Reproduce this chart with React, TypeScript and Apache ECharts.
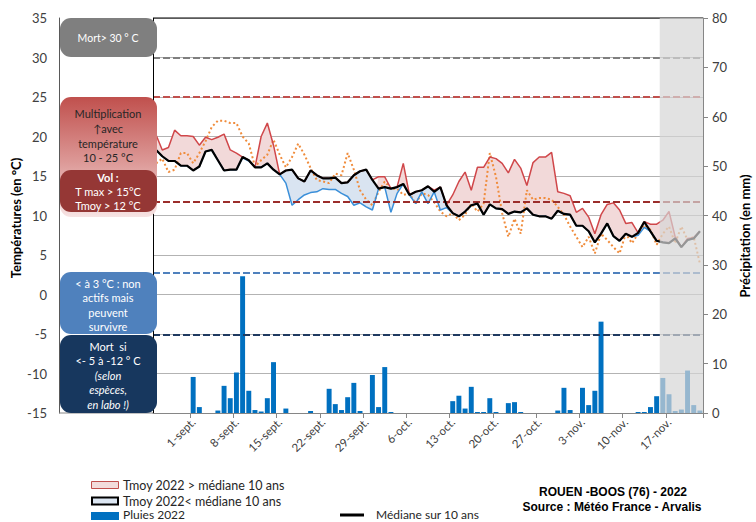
import React, { useEffect, useRef } from "react";
import * as echarts from "echarts";

const FONT = 'Lato, "Open Sans", "DejaVu Sans", sans-serif';

// Daily categories 26-août .. 22-nov.
const monthSpans: [string, number, number][] = [
  ["août", 26, 31],
  ["sept.", 1, 30],
  ["oct.", 1, 31],
  ["nov.", 1, 22],
];
const categories: string[] = [];
monthSpans.forEach(([m, a, b]) => {
  for (let d = a; d <= b; d++) categories.push(`${d}-${m}`);
});

const tickLabels = [
  "1-sept.", "8-sept.", "15-sept.", "22-sept.", "29-sept.", "6-oct.",
  "13-oct.", "20-oct.", "27-oct.", "3-nov.", "10-nov.", "17-nov.",
];
const shadeFrom = "16-nov.";

// Tmoy 2022 (°C)
const tmoy2022 = [
  20.2, 18.3, 18.6, 20.8, 20.1, 20.1, 20.0, 18.9, 19.9, 19.6,
  19.9, 20.3, 18.3, 17.9, 17.3, 16.9, 16.1, 20.0, 21.7, 18.9,
  15.2, 14.1, 11.3, 12.0, 12.6, 12.9, 13.0, 13.4, 13.3, 13.3,
  12.8, 12.4, 11.3, 11.6, 11.1, 10.7, 14.9, 14.9, 10.4, 12.8,
  16.6, 12.6, 11.5, 13.0, 11.5, 13.2, 10.7, 11.0, 12.6, 14.3,
  15.5, 13.2, 16.1, 16.1, 17.4, 17.2, 16.6, 15.4, 17.1, 16.0,
  13.8, 16.7, 17.4, 17.4, 18.0, 13.0, 12.8, 12.5, 10.4, 10.9,
  9.8, 7.7, 10.1, 11.4, 11.6, 10.7, 9.0, 9.1, 7.5, 8.5,
  8.9, 8.9, 9.4, 10.5, 7.3, 6.0, 7.1, 7.2, 8.0,
];

// Médiane sur 10 ans (°C)
const median10 = [
  18.3, 17.5, 16.9, 16.9, 16.3, 16.3, 15.7, 16.2, 18.1, 18.3,
  17.0, 15.7, 15.8, 15.8, 17.4, 17.0, 16.1, 16.1, 16.6, 15.8,
  15.2, 15.7, 15.8, 14.7, 14.3, 15.7, 15.1, 14.7, 14.7, 14.8,
  14.1, 14.2, 15.1, 15.6, 15.8, 14.5, 13.4, 13.6, 13.4, 13.6,
  14.0, 12.6, 13.0, 13.2, 13.7, 13.0, 13.6, 11.3, 10.3, 9.9,
  10.5, 11.3, 11.5, 10.1, 11.4, 10.9, 10.8, 10.2, 10.5, 10.4,
  10.9, 10.1, 9.9, 9.9, 9.6, 10.6, 10.2, 10.1, 8.7, 8.7,
  8.0, 6.6, 7.7, 9.0, 7.4, 6.8, 7.7, 7.3, 7.8, 9.2,
  8.0, 6.8, 6.6, 6.5, 7.1, 6.0, 6.9, 7.1, 8.0,
];

// Orange dotted series (°C)
const orangeDotted = [
  16.6, 17.2, 15.5, 15.8, 17.9, 17.9, 16.6, 17.9, 19.4, 21.2,
  22.0, 22.0, 21.7, 21.7, 20.0, 19.1, 16.2, 17.0, 17.7, 19.6,
  17.7, 16.1, 17.4, 19.1, 17.7, 16.0, 14.5, 14.3, 14.1, 15.3,
  15.1, 17.9, 15.8, 13.2, 12.0, 11.3, 13.0, 14.3, 13.4, 13.4,
  12.6, 12.8, 11.5, 12.8, 12.6, 11.7, 10.5, 9.9, 10.3, 9.4,
  10.1, 11.5, 10.5, 11.5, 17.9, 14.9, 10.3, 7.3, 9.6, 7.7,
  13.2, 12.0, 12.2, 12.2, 12.0, 11.1, 10.1, 8.6, 7.3, 6.0,
  7.3, 5.2, 7.7, 6.9, 6.0, 5.2, 7.7, 6.5, 7.7, 8.8,
  8.2, 6.3, 7.7, 8.6, 6.5, 8.6, 6.9, 7.3, 3.9,
];

// Pluies 2022 (mm)
const rain2022 = [
  0, 0, 0, 0, 0, 0, 7.3, 1.2, 0, 0,
  0.5, 5.5, 3.0, 8.2, 27.7, 4.5, 0.6, 0.3, 3.0, 10.3,
  0, 0.9, 0, 0, 0, 0.4, 0, 0, 4.9, 1.8,
  0.6, 3.2, 6.1, 0.4, 0, 7.7, 1.2, 9.3, 0.2, 0,
  0, 0, 0, 0, 0, 0, 0, 0, 2.4, 3.5,
  0.9, 5.3, 0.2, 0.2, 3.0, 0.2, 0, 2.0, 2.2, 0.2,
  0, 0, 0, 0, 0, 0.5, 5.1, 0.6, 0, 5.1,
  1.6, 4.5, 18.5, 0, 0, 0, 0, 0, 0.2, 0.2,
  1.2, 3.4, 7.1, 3.8, 0.4, 0.7, 8.6, 1.6, 0.5,
];

const thresholds = [30, 25, 11.7, 2.8, -5.1];
const thresholdColors = ["#7f7f7f", "#c0504d", "#9b2d2b", "#4f81bd", "#1f3a60"];

export default function App() {
  const ref = useRef<HTMLDivElement>(null);

  useEffect(() => {
    document.body.style.margin = "0";
    const el = ref.current!;
    const chart = echarts.init(el, undefined, { renderer: "svg" });

    const lo = tmoy2022.map((t, i) => Math.min(t, median10[i]));
    const hi = tmoy2022.map((t, i) => Math.max(t, median10[i]));
    const up = tmoy2022.map((t, i) => +Math.max(t - median10[i], 0).toFixed(2));
    const dn = tmoy2022.map((t, i) => +Math.max(median10[i] - t, 0).toFixed(2));

    const tickFn = (_i: number, v: string) => tickLabels.includes(v);
    const hidden = { opacity: 0, width: 0 };

    const option: any = {
      animation: false,
      grid: { left: 153, right: 53, top: 18, bottom: 109, containLabel: false },
      xAxis: {
        type: "category",
        data: categories,
        boundaryGap: true,
        axisLine: { show: true, onZero: false, lineStyle: { color: "#868686" } },
        axisTick: { show: true, interval: tickFn, length: 5, lineStyle: { color: "#868686" } },
        axisLabel: {
          interval: tickFn,
          rotate: 45,
          fontSize: 11.5,
          color: "#404040",
          margin: 7,
          fontFamily: FONT,
        },
        splitLine: { show: false },
      },
      yAxis: [
        {
          type: "value",
          min: -15,
          max: 35,
          interval: 5,
          position: "left",
          offset: 94,
          axisLine: { show: true, lineStyle: { color: "#595959" } },
          axisTick: { show: false },
          axisLabel: { fontSize: 13, color: "#404040", margin: 12, fontFamily: FONT },
          splitLine: { show: true, lineStyle: { color: "#b3b3b3", width: 1 } },
        },
        {
          type: "value",
          min: 0,
          max: 80,
          interval: 10,
          position: "right",
          axisLine: { show: true, lineStyle: { color: "#868686" } },
          axisTick: { show: true, length: 5, lineStyle: { color: "#868686" } },
          axisLabel: { fontSize: 13, color: "#404040", margin: 9, fontFamily: FONT },
          splitLine: { show: false },
        },
      ],
      series: [
        {
          name: "Pluies 2022",
          type: "bar",
          yAxisIndex: 1,
          data: rain2022,
          barWidth: "80%",
          itemStyle: { color: "#0070c0" },
          z: 1,
        },
        {
          name: "upBase",
          type: "line",
          stack: "up",
          data: lo,
          symbol: "none",
          lineStyle: hidden,
          z: 2,
          markLine: {
            silent: true,
            symbol: ["none", "none"],
            label: { show: false },
            data: thresholds.map((v, i) => ({
              yAxis: v,
              lineStyle: { color: thresholdColors[i], type: [7, 3], width: 2 },
            })),
          },
        },
        {
          name: "upDiff",
          type: "line",
          stack: "up",
          data: up,
          symbol: "none",
          lineStyle: hidden,
          areaStyle: { color: "#f2d9d9", opacity: 1 },
          z: 2,
        },
        {
          name: "dnBase",
          type: "line",
          stack: "dn",
          data: lo,
          symbol: "none",
          lineStyle: hidden,
          z: 2,
        },
        {
          name: "dnDiff",
          type: "line",
          stack: "dn",
          data: dn,
          symbol: "none",
          lineStyle: hidden,
          areaStyle: { color: "#d9e4f1", opacity: 1 },
          z: 2,
        },
        {
          name: "orange",
          type: "line",
          data: orangeDotted,
          symbol: "none",
          lineStyle: { color: "#f08c3c", width: 2, type: [2, 2.5] },
          z: 3,
        },
        {
          name: "lo",
          type: "line",
          data: lo,
          symbol: "none",
          lineStyle: { color: "#3a8fd9", width: 1.5 },
          z: 4,
        },
        {
          name: "hi",
          type: "line",
          data: hi,
          symbol: "none",
          lineStyle: { color: "#d0474a", width: 1.5 },
          z: 4,
        },
        {
          name: "Médiane sur 10 ans",
          type: "line",
          data: median10,
          symbol: "none",
          lineStyle: { color: "#000000", width: 2.2 },
          z: 5,
        },
      ],
    };

    chart.setOption(option);

    const px = (c: string) => chart.convertToPixel({ xAxisIndex: 0 }, c) as number;
    const band = px(categories[1]) - px(categories[0]);
    const xs = px(shadeFrom) - band / 2;
    const xe = px(categories[categories.length - 1]) + band / 2;
    const xl = px(categories[0]) - band / 2;
    const yTop = chart.convertToPixel({ yAxisIndex: 0 }, 35) as number;
    const yBot = chart.convertToPixel({ yAxisIndex: 0 }, -15) as number;

    const txt = (
      x: number,
      y: number,
      text: string,
      opts: { size?: number; color?: string; weight?: string; style?: string; align?: string; family?: string; rot?: number } = {}
    ) => ({
      type: "text",
      x,
      y,
      rotation: opts.rot || 0,
      z: 30,
      style: {
        text,
        fill: opts.color || "#ffffff",
        fontSize: opts.size || 11,
        fontWeight: opts.weight || "normal",
        fontStyle: opts.style || "normal",
        fontFamily: opts.family || FONT,
        textAlign: opts.align || "center",
        align: opts.align || "center",
        textVerticalAlign: "middle",
        verticalAlign: "middle",
      },
    });

    const box = (y: number, h: number, fill: any) => ({
      type: "rect",
      z: 25,
      shape: { x: 60, y, width: 97, height: h, r: 11 },
      style: { fill },
    });

    const redGrad = new echarts.graphic.LinearGradient(0, 0, 0, 1, [
      { offset: 0, color: "#c0504d" },
      { offset: 0.55, color: "#dd9a98" },
      { offset: 1, color: "#f7e4e4" },
    ]);

    const dark = "#262626";

    chart.setOption({
      graphic: [
        // plot frame
        { type: "line", z: 6, shape: { x1: xl, y1: yTop, x2: xe, y2: yTop }, style: { stroke: "#000", lineWidth: 1 } },
        { type: "line", z: 6, shape: { x1: xl + 0.5, y1: yTop, x2: xl + 0.5, y2: yBot }, style: { stroke: "#000", lineWidth: 1 } },
        { type: "line", z: 6, shape: { x1: 59, y1: yBot, x2: xl, y2: yBot }, style: { stroke: "#868686", lineWidth: 1 } },
        // shaded forecast zone
        {
          type: "rect",
          z: 10,
          shape: { x: xs, y: yTop, width: xe - xs, height: yBot - yTop },
          style: { fill: "rgba(214,214,214,0.7)" },
        },
        // left boxes
        box(18, 39, "#7f7f7f"),
        txt(108, 38, "Mort> 30 ° C", { size: 10.5 }),
        box(97, 120, redGrad),
        txt(108, 113, "Multiplication", { color: dark }),
        txt(108, 128, "↑avec", { color: dark }),
        txt(108, 143, "température", { color: dark }),
        txt(108, 157, "10 - 25 °C", { color: dark }),
        box(170, 42, "#953735"),
        txt(108, 177, "Vol :", { weight: "bold" }),
        txt(108, 191, "T max > 15°C"),
        txt(108, 205, "Tmoy > 12 °C"),
        box(272, 62, "#4f81bd"),
        txt(108, 283, "< à 3 °C : non"),
        txt(108, 297, "actifs mais"),
        txt(108, 312, "peuvent"),
        txt(108, 326, "survivre"),
        box(335, 78, "#17375e"),
        txt(108, 346, "Mort  si"),
        txt(108, 360, "<- 5 à -12 ° C"),
        txt(108, 375, "(selon", { style: "italic" }),
        txt(108, 389, "espèces,", { style: "italic" }),
        txt(108, 404, "en labo !)", { style: "italic" }),
        // axis titles
        txt(16, 218, "Températures (en °C)", { color: "#000", weight: "bold", size: 13, rot: Math.PI / 2 }),
        txt(745, 236, "Précipitation (en mm)", { color: "#000", weight: "bold", size: 13, rot: Math.PI / 2 }),
        // legend
        { type: "rect", z: 30, shape: { x: 91.5, y: 481.5, width: 27, height: 7 }, style: { fill: "#f2dcdb", stroke: "#c0504d", lineWidth: 1 } },
        txt(123, 485, "Tmoy 2022 > médiane 10 ans", { color: dark, size: 12.5, align: "left" }),
        { type: "rect", z: 30, shape: { x: 92, y: 497.5, width: 26, height: 7 }, style: { fill: "#dce6f2", stroke: "#000", lineWidth: 2 } },
        txt(123, 501, "Tmoy 2022< médiane 10 ans", { color: dark, size: 12.5, align: "left" }),
        { type: "rect", z: 30, shape: { x: 91, y: 512, width: 28, height: 8 }, style: { fill: "#0070c0" } },
        txt(123, 514.5, "Pluies 2022", { color: dark, size: 12, align: "left" }),
        { type: "line", z: 30, shape: { x1: 340, y1: 515, x2: 364, y2: 515 }, style: { stroke: "#000", lineWidth: 3 } },
        txt(376, 514.5, "Médiane sur 10 ans", { color: dark, size: 12, align: "left" }),
        // source
        txt(613, 492, "ROUEN -BOOS (76) - 2022", {
          color: "#000", weight: "bold", size: 12, family: '"Liberation Sans Narrow", "Liberation Sans", sans-serif',
        }),
        txt(612, 507, "Source : Météo France - Arvalis", {
          color: "#000", weight: "bold", size: 12, family: '"Liberation Sans Narrow", "Liberation Sans", sans-serif',
        }),
      ],
    });

    return () => chart.dispose();
  }, []);

  return <div ref={ref} style={{ width: 756, height: 522 }} />;
}
